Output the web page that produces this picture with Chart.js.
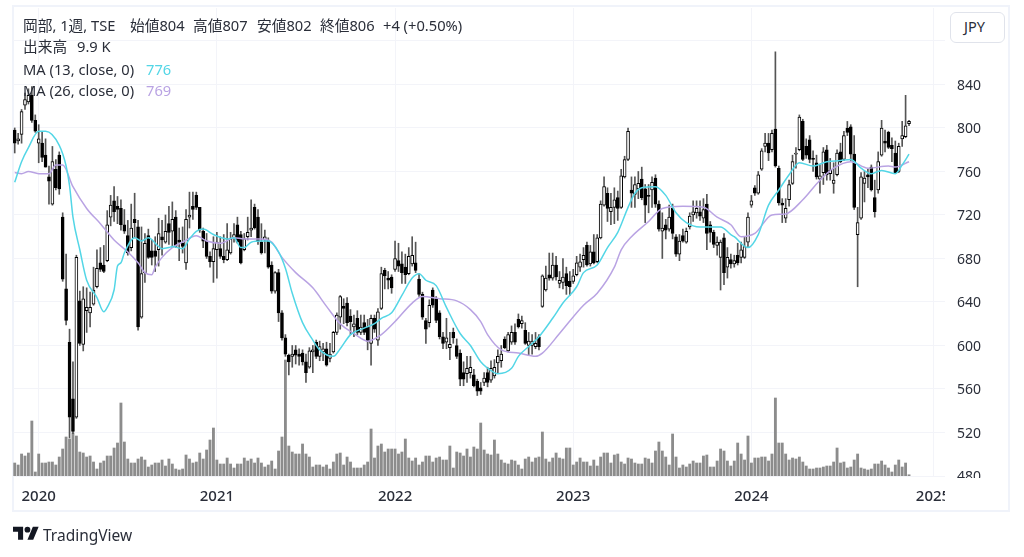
<!DOCTYPE html>
<html lang="ja">
<head>
<meta charset="utf-8">
<title>岡部 1週</title>
<script src="https://cdn.jsdelivr.net/npm/chart.js@4/dist/chart.umd.min.js"></script>
<style>
  html, body { margin: 0; padding: 0; background: #fff; }
  body { width: 1024px; height: 557px; position: relative; overflow: hidden;
    font-family: "Noto Sans", "Noto Sans CJK JP", sans-serif; color: #131722; }
  #frame { position: absolute; left: 12px; top: 5px; width: 998px; height: 507px;
    box-sizing: border-box; border: 2px solid #f0f3fa; }
  #price_chart { position: absolute; left: 0; top: 0; }
  #axis_cut { position: absolute; left: 945px; top: 478px; width: 63px; height: 32px; background: #fff; }
  .row { position: absolute; left: 23px; font-size: 14.7px; line-height: 18px; white-space: pre; color: #2a2e39; }
  .row span { position: absolute; top: 0; }
  #currency { position: absolute; left: 950px; top: 12px; width: 55px; height: 31px; box-sizing: border-box;
    border: 1px solid #e0e3eb; border-radius: 6px; background: #fff; font-size: 14.5px; line-height: 27px;
    text-align: center; color: #2a2e39; padding-right: 6px; }
  #logo { position: absolute; left: 13px; top: 526px; }
  #brand { position: absolute; left: 43px; top: 524px; font-size: 15.5px; line-height: 22px; color: #2a2e39; }
</style>
</head>
<body>
<div id="frame"></div>
<canvas id="price_chart" width="1024" height="557"></canvas>
<div id="axis_cut"></div>
<div class="row" style="top:16px"><span style="left:0">岡部, 1週, TSE</span><span style="left:107px">始値804</span><span style="left:170px">高値807</span><span style="left:234px">安値802</span><span style="left:297px">終値806</span><span style="left:360px">+4 (+0.50%)</span></div>
<div class="row" style="top:37px"><span style="left:0">出来高</span><span style="left:54px">9.9 K</span></div>
<div class="row" style="top:60px"><span style="left:0">MA (13, close, 0)</span><span style="left:123px;color:#53d6e6">776</span></div>
<div class="row" style="top:81px"><span style="left:0">MA (26, close, 0)</span><span style="left:123px;color:#b9a3e3">769</span></div>
<div id="currency">JPY</div>
<svg id="logo" width="26" height="16" viewBox="0 4 36 20"><path fill="#131722" d="M14 22H7V11H0V4h14v18zM28 22h-8l7.5-18h8L28 22z"/><circle fill="#131722" cx="20" cy="8" r="4"/></svg>
<div id="brand">TradingView</div>

<script>
// weekly bars, Nov 2019 to Nov 2024
const opens = [
  798,788,794,821,824,830,807,786,786,775,
  755,730,762,775,718,652,603,551,534,641,
  601,632,630,638,654,676,674,678,718,733,
  728,726,711,701,690,716,709,626,667,701,
  687,687,688,700,695,712,705,718,697,694,
  676,718,728,738,727,705,696,682,677,688,
  689,682,679,685,699,711,702,688,700,706,
  727,718,695,697,697,674,650,667,630,607,
  591,590,596,592,593,585,580,594,603,590,
  594,597,588,594,612,626,636,639,627,617,
  625,612,621,617,602,625,605,634,669,662,
  663,670,678,675,672,666,675,676,661,647,
  623,621,651,643,630,608,603,598,612,600,
  593,575,574,575,573,567,561,566,575,568,
  572,584,586,606,595,603,612,624,620,614,
  600,600,599,608,636,651,665,662,674,657,
  658,666,659,659,665,672,679,692,675,686,
  677,699,729,740,723,727,736,727,755,771,
  743,739,744,753,744,738,743,754,730,705,
  711,707,726,700,684,701,695,709,720,722,
  723,717,730,711,704,692,681,699,672,679,
  675,683,681,681,695,729,745,740,762,783,
  786,780,799,763,731,717,734,749,776,780,
  806,783,789,772,768,753,759,780,758,749,
  757,778,771,800,801,776,702,717,749,757,
  764,736,743,775,788,796,784,777,760,790,
  792,804
];
const highs = [
  800,795,817,832,836,838,812,803,796,790,
  765,783,771,778,722,684,615,585,683,650,
  654,653,649,672,688,690,692,724,738,746,
  737,734,725,715,730,740,715,709,703,707,
  697,700,717,715,720,728,732,724,708,709,
  725,741,741,741,727,708,703,686,700,704,
  700,702,712,704,712,718,705,703,718,734,
  730,725,712,706,699,677,668,670,632,610,
  592,600,600,597,596,592,598,600,605,604,
  602,603,602,613,630,646,643,644,633,628,
  632,628,628,624,628,628,634,672,671,668,
  665,696,694,686,684,690,700,695,666,649,
  625,642,653,645,632,612,625,612,616,606,
  596,585,590,590,578,569,566,575,580,586,
  587,596,600,608,612,618,620,629,627,621,
  612,610,612,610,665,673,685,685,682,668,
  680,672,668,670,682,684,690,695,692,702,
  702,733,755,745,740,745,742,762,774,800,
  755,755,760,764,748,748,755,757,733,722,
  716,729,730,702,702,707,708,722,733,733,
  733,735,739,714,706,700,697,703,690,684,
  683,694,695,700,722,738,747,760,781,795,
  795,798,870,765,735,735,752,775,782,812,
  808,790,793,779,775,766,782,784,772,768,
  780,786,797,806,803,793,727,759,760,762,
  766,752,778,807,798,797,791,788,786,806,
  830,807
];
const lows = [
  777,785,786,817,822,805,796,768,769,764,
  730,729,743,739,659,619,515,519,533,600,
  595,612,617,637,653,668,667,677,710,714,
  712,706,703,683,687,699,614,625,658,680,
  674,668,673,683,694,693,690,690,678,685,
  670,708,716,725,704,690,680,672,658,662,
  680,676,678,684,695,694,675,687,697,700,
  707,693,684,685,671,648,648,622,605,590,
  573,580,583,582,582,566,579,575,588,586,
  586,581,585,593,610,615,620,618,610,608,
  610,610,610,596,582,612,600,633,652,652,
  648,668,668,657,657,665,673,667,645,624,
  602,617,635,621,606,597,597,587,602,588,
  563,563,566,570,562,554,555,563,562,566,
  570,575,580,597,594,601,601,616,616,601,
  591,592,597,596,635,650,660,660,660,653,
  652,647,646,657,664,668,672,673,673,675,
  676,698,728,714,711,712,715,726,754,770,
  727,727,735,734,713,722,727,727,705,680,
  698,705,698,682,678,695,694,707,714,717,
  715,713,688,695,690,683,651,656,662,671,
  672,674,676,680,690,727,738,739,761,778,
  770,778,764,729,713,713,728,748,763,779,
  770,772,768,760,753,740,748,752,752,740,
  756,768,770,793,770,725,654,716,732,745,
  742,718,740,774,778,781,769,758,759,783,
  791,802
];
const closes = [
  786,790,815,826,830,807,797,790,773,764,
  751,769,745,744,661,623,534,521,681,602,
  643,635,635,651,671,670,668,711,729,723,
  725,711,705,685,708,713,617,666,694,681,
  681,682,703,697,705,704,716,691,695,691,
  716,720,725,727,706,696,682,677,689,695,
  682,679,688,698,702,695,676,698,704,708,
  708,696,685,700,672,650,667,630,607,592,
  585,592,591,590,585,575,595,596,590,599,
  597,582,592,612,628,645,634,621,622,620,
  612,617,612,604,625,615,631,666,664,660,
  653,680,673,667,665,682,683,669,647,626,
  615,637,637,623,608,602,607,601,607,590,
  569,569,579,580,563,558,558,570,566,579,
  580,590,592,598,610,612,603,617,623,602,
  604,604,602,599,664,662,662,674,663,660,
  663,655,654,664,676,677,683,674,686,676,
  699,730,746,726,727,734,726,756,771,797,
  740,748,749,736,729,737,750,730,707,708,
  706,718,703,684,696,696,705,719,723,726,
  719,725,703,704,693,695,695,667,681,675,
  678,676,688,691,718,733,740,757,779,786,
  777,795,765,731,729,726,748,769,777,810,
  771,775,771,771,755,756,778,757,761,752,
  777,769,793,796,776,727,713,755,754,755,
  743,723,769,800,786,782,781,759,783,793,
  802,806
];
// volume in thousands of shares
const volumes = [
  104,88,176,160,184,440,32,176,104,104,
  112,112,88,152,216,312,296,344,320,192,
  184,152,160,112,56,104,120,160,160,224,
  264,584,272,136,104,104,136,152,128,72,
  88,104,104,128,80,136,96,56,48,56,
  168,136,104,112,184,136,208,288,384,128,
  96,96,144,96,64,96,96,144,120,136,
  104,144,104,72,88,120,56,200,312,928,
  240,192,176,176,256,176,152,72,88,88,
  72,88,56,112,176,184,88,152,112,64,
  64,64,88,112,376,144,240,256,192,216,
  216,216,176,192,296,144,120,144,88,112,
  160,160,112,144,152,128,128,240,64,192,
  184,160,216,152,232,216,424,208,176,168,
  288,176,128,104,96,128,120,88,56,136,
  152,112,144,152,352,136,112,144,184,144,
  136,224,224,88,112,144,112,112,80,128,
  80,152,184,184,104,168,176,112,96,144,
  136,104,96,96,144,136,104,200,272,200,
  152,88,336,152,64,88,72,96,120,104,
  104,160,168,72,72,120,216,200,120,80,
  120,264,176,128,320,104,144,144,152,152,
  120,176,624,264,264,176,128,144,136,152,
  112,80,56,56,64,64,72,80,80,112,
  224,104,112,64,72,128,176,64,56,48,
  56,96,96,120,88,64,32,88,128,72,
  104,9.9
];
// moving averages, read at the weeks listed next to them
const ma13Weeks = [
  0,2,4,7,9,13,15,16,17,19,21,24,26,27,29,30,31,32,35,37,
  39,42,43,45,46,49,51,53,55,58,62,64,66,67,69,72,74,77,79,81,
  84,87,89,93,95,98,102,105,107,110,113,116,118,120,123,126,130,133,136,140,
  141,145,147,150,153,157,160,164,166,170,173,176,179,181,183,187,190,193,196,200,
  204,206,209,210,214,217,220,223,226,229,233,237,241,244,247,250,253,257,259,261
];
const ma13Values = [
  750,769,782,797,797,784,765,747,718,688,660,644,631,635,651,673,676,685,699,696,
  699,691,689,690,691,689,698,705,707,702,698,699,690,690,695,696,696,686,671,648,
  621,605,596,590,597,610,616,620,625,630,646,662,666,660,655,635,611,600,585,575,
  574,579,590,599,608,625,639,654,667,674,690,704,727,740,745,746,738,722,713,709,
  709,709,702,700,690,702,729,743,757,768,765,769,770,771,763,758,761,758,766,776
];
const ma26Weeks = [
  0,2,4,7,10,12,14,17,21,25,29,33,36,38,40,41,43,46,49,53,
  56,60,64,67,72,75,78,82,87,91,95,99,103,107,111,116,119,124,129,133,
  136,138,142,147,152,154,159,166,170,175,177,180,185,189,195,201,205,209,212,216,
  221,225,230,235,239,244,249,255,257,261
];
const ma26Values = [
  759,758,760,758,758,766,766,746,726,712,697,686,676,667,665,672,681,690,695,701,
  696,694,699,698,698,695,681,667,653,636,620,611,604,610,622,639,645,643,641,633,
  622,610,596,593,590,593,611,637,648,672,688,700,714,726,728,727,718,711,700,703,
  720,721,734,752,763,769,763,765,764,769
];
// axis labels
const priceTicks = [480,520,560,600,640,680,720,760,800,840,880];
const hiddenPriceTicks = [880];
const yearLabels = ['2020','2021','2022','2023','2024','2025'];
const yearWeeks = [7,59,111,163,215,268];
// the time axis runs on ten weeks past the last bar
const emptyWeeks = 10;

const weeks = [];
for (var w = 0; w < opens.length + emptyWeeks; w++) {
  var d = new Date(Date.UTC(2019, 10, 18 + w * 7));
  weeks.push(d.toISOString().slice(0, 10));
}

var wicks = lows.map(function (low, i) { return [low, highs[i]]; });
var bodies = opens.map(function (open, i) { return [Math.min(open, closes[i]), Math.max(open, closes[i])]; });
var bodyColors = opens.map(function (open, i) { return closes[i] < open ? '#000000' : '#ffffff'; });

var priceChart = new Chart(document.getElementById('price_chart'), {
  type: 'bar',
  data: {
    labels: weeks,
    datasets: [
      {
        type: 'line',
        label: 'MA 26',
        data: ma26Weeks.map(function (k, i) { return { x: weeks[k], y: ma26Values[i] }; }),
        borderColor: '#b9a3e3',
        borderWidth: 1.5,
        cubicInterpolationMode: 'monotone',
        pointRadius: 0,
        yAxisID: 'y',
        order: 2
      },
      {
        type: 'line',
        label: 'MA 13',
        data: ma13Weeks.map(function (k, i) { return { x: weeks[k], y: ma13Values[i] }; }),
        borderColor: '#53d6e6',
        borderWidth: 1.5,
        cubicInterpolationMode: 'monotone',
        pointRadius: 0,
        yAxisID: 'y',
        order: 1
      },
      {
        label: 'bodies',
        data: bodies,
        backgroundColor: bodyColors,
        borderColor: '#000000',
        borderWidth: 1,
        borderSkipped: false,
        barThickness: 3,
        grouped: false,
        yAxisID: 'y',
        order: 3
      },
      {
        label: 'wicks',
        data: wicks,
        backgroundColor: '#555555',
        barThickness: 1,
        grouped: false,
        yAxisID: 'y',
        order: 4
      },
      {
        label: '出来高',
        data: volumes,
        backgroundColor: '#8c8c8c',
        barThickness: 2.2,
        grouped: false,
        yAxisID: 'volume',
        order: 5
      }
    ]
  },
  options: {
    responsive: false,
    animation: false,
    layout: { padding: { left: 13, top: 8, right: 14, bottom: 47 } },
    plugins: { legend: { display: false }, tooltip: { enabled: false } },
    scales: {
      x: {
        grid: { color: '#f3f4f9', offset: false, drawTicks: false },
        border: { display: false },
        afterBuildTicks: function (scale) {
          scale.ticks = yearWeeks.map(function (k) { return { value: k }; });
        },
        afterFit: function (scale) {
          scale.height = 34;
          scale.paddingLeft = 0;
          scale.paddingRight = 0;
        },
        ticks: {
          autoSkip: false,
          maxRotation: 0,
          padding: 12,
          color: '#2a2e39',
          font: { family: '"Noto Sans", sans-serif', size: 15, weight: '500' },
          callback: function (value) { return yearLabels[yearWeeks.indexOf(value)]; }
        }
      },
      y: {
        position: 'right',
        min: 480,
        max: 910.3,
        grid: { color: '#f3f4f9', drawTicks: false },
        border: { display: false },
        afterBuildTicks: function (scale) {
          scale.ticks = priceTicks.map(function (v) { return { value: v }; });
        },
        afterFit: function (scale) {
          scale.width = 65;
          scale.paddingTop = 0;
          scale.paddingBottom = 0;
        },
        ticks: {
          padding: 12,
          labelOffset: 1.5,
          color: '#2a2e39',
          font: { family: '"Noto Sans", sans-serif', size: 14 },
          callback: function (value) { return hiddenPriceTicks.indexOf(value) >= 0 ? '' : value; }
        }
      },
      volume: { display: false, min: 0, max: 3744 }
    }
  }
});
</script>
</body>
</html>
